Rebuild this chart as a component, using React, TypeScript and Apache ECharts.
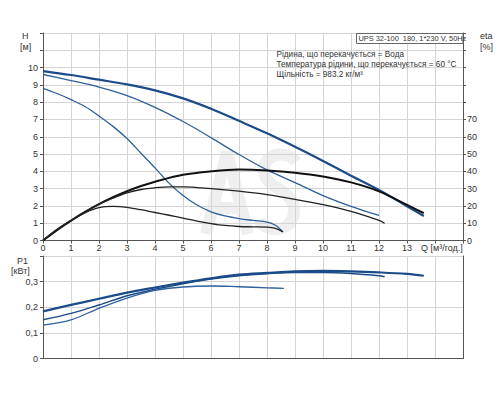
import React, { useEffect, useRef } from "react";
import * as echarts from "echarts";

// Flow Q [m³/h] and head H [m] per speed
const qH3 = [0, 1, 2, 3, 4, 5, 6, 7, 8, 9, 10, 11, 12, 13, 13.6];
const h3 = [9.8, 9.57, 9.3, 9.03, 8.68, 8.22, 7.62, 6.92, 6.2, 5.42, 4.6, 3.75, 2.92, 1.98, 1.42];
const qH2 = [0, 1, 2, 3, 4, 5, 6, 7, 8, 9, 10, 11, 12];
const h2 = [9.6, 9.25, 8.87, 8.38, 7.7, 6.88, 5.95, 4.97, 4.08, 3.35, 2.6, 1.98, 1.45];
const qH1 = [0, 0.5, 1, 1.5, 2, 2.5, 3, 3.5, 4, 4.5, 5, 5.5, 6, 6.5, 7, 7.5, 8, 8.3, 8.57];
const h1 = [8.8, 8.5, 8.15, 7.75, 7.2, 6.6, 5.9, 5.05, 4.2, 3.32, 2.6, 2.05, 1.66, 1.42, 1.27, 1.16, 1.06, 0.88, 0.5];

// Efficiency eta [%]
const qE3 = [0, 0.5, 1, 1.5, 2, 2.5, 3, 3.5, 4, 5, 6, 7, 8, 9, 10, 11, 12, 13, 13.6];
const e3 = [0, 6, 11.5, 16.5, 21, 25, 28.5, 31.5, 34, 38, 40, 41, 40.5, 39.2, 37, 33.6, 28.4, 20.6, 15.8];
const qE2 = [0, 0.5, 1, 1.5, 2, 2.5, 3, 3.5, 4, 4.5, 5, 6, 7, 8, 9, 10, 11, 12, 12.2];
const e2 = [0, 6, 11.5, 16.5, 21, 24.5, 27.5, 29.5, 30.5, 31, 31, 30, 28.5, 26.5, 23.8, 20.7, 16.8, 11.6, 10];
const qE1 = [0, 0.5, 1, 1.5, 2, 2.5, 3, 3.5, 4, 4.5, 5, 5.5, 6, 6.5, 7, 7.5, 8, 8.3, 8.57];
const e1 = [0, 6.5, 11.5, 16, 19, 19.7, 19.2, 17.8, 16.2, 14.6, 12.9, 11.2, 9.8, 8.7, 8.1, 7.9, 7.7, 7, 5];

// Power P1 [kW]
const qP3 = [0, 1, 2, 3, 4, 5, 6, 7, 8, 9, 10, 11, 12, 13, 13.6];
const p3 = [0.184, 0.209, 0.233, 0.257, 0.277, 0.296, 0.313, 0.327, 0.334, 0.34, 0.342, 0.34, 0.336, 0.33, 0.323];
const qP2 = [0, 1, 2, 3, 4, 5, 6, 7, 8, 9, 10, 11, 12, 12.2];
const p2 = [0.151, 0.176, 0.209, 0.245, 0.27, 0.292, 0.31, 0.323, 0.331, 0.336, 0.336, 0.332, 0.323, 0.319];
const qP1 = [0, 1, 2, 3, 4, 5, 6, 7, 8, 8.6];
const p1 = [0.13, 0.151, 0.196, 0.236, 0.266, 0.279, 0.283, 0.28, 0.276, 0.274];

const titleText = "UPS 32-100  180, 1*230 V, 50Hz";
const infoLines = [
  "Рідина, що перекачується = Вода",
  "Температура рідини, що перекачується = 60 °C",
  "Щільність = 983.2 кг/м³",
];

const FONT = 'Arial, "Liberation Sans", sans-serif';
const AXIS = "#555";
const GRID = "#d4d4d4";
const BLUE_T = "#1b4b88";
const BLUE = "#2f609b";

// watermark letter outlines (background logo)
echarts.graphic.registerShape("wmA", echarts.graphic.extendPath("M3 86 L24 4 L45 86 M12 60 L36 60", {}));
echarts.graphic.registerShape(
  "wmS",
  echarts.graphic.extendPath("M40 14 C33 3 8 3 8 22 C8 42 38 40 38 62 C38 86 9 85 3 72", {})
);

const zip = (a: number[], b: number[]) => a.map((x, i) => [x, b[i]]);

export default function App() {
  const ref = useRef<HTMLDivElement>(null);
  useEffect(() => {
    const chart = echarts.init(ref.current!, null, { renderer: "svg" });
    const lbl = { fontFamily: FONT, fontSize: 9, color: "#333" };
    const line = (name: string, data: number[][], color: string, width: number, xi: number, yi: number) => ({
      name,
      type: "line",
      xAxisIndex: xi,
      yAxisIndex: yi,
      data,
      smooth: 0.35,
      showSymbol: false,
      symbol: "none",
      lineStyle: { color, width },
      z: 3,
    });
    chart.setOption({
      animation: false,
      grid: [
        { left: 43, top: 33, width: 420, height: 207.5 },
        { left: 43, top: 256, width: 420, height: 102.5 },
      ],
      xAxis: [
        {
          type: "value", gridIndex: 0, min: 0, max: 15, interval: 1,
          axisLine: { lineStyle: { color: AXIS, width: 1 } },
          axisTick: { show: true, length: 3, lineStyle: { color: AXIS } },
          axisLabel: { ...lbl, margin: 3, formatter: (v: number) => (v <= 13 ? String(v) : "") },
          splitLine: { show: true, lineStyle: { color: GRID, width: 1 } },
        },
        {
          type: "value", gridIndex: 1, min: 0, max: 15, interval: 1,
          axisLine: { lineStyle: { color: AXIS, width: 1 } },
          axisTick: { show: false },
          axisLabel: { show: false },
          splitLine: { show: true, lineStyle: { color: GRID, width: 1 } },
        },
      ],
      yAxis: [
        {
          type: "value", gridIndex: 0, min: 0, max: 12, interval: 1,
          axisLine: { show: true, lineStyle: { color: AXIS, width: 1 } },
          axisTick: { show: true, length: 3, lineStyle: { color: AXIS } },
          axisLabel: { ...lbl, margin: 5, formatter: (v: number) => (v <= 10 ? String(v) : "") },
          splitLine: { show: true, lineStyle: { color: GRID, width: 1 } },
        },
        {
          type: "value", gridIndex: 0, position: "right", min: 0, max: 120, interval: 10,
          axisLine: { show: true, lineStyle: { color: AXIS, width: 1 } },
          axisTick: { show: true, length: 3, lineStyle: { color: AXIS } },
          axisLabel: { ...lbl, margin: 4, formatter: (v: number) => (v <= 70 ? String(v) : "") },
          splitLine: { show: false },
        },
        {
          type: "value", gridIndex: 1, min: 0, max: 0.4, interval: 0.1,
          axisLine: { show: true, lineStyle: { color: AXIS, width: 1 } },
          axisTick: { show: true, length: 3, lineStyle: { color: AXIS } },
          axisLabel: { ...lbl, margin: 5, formatter: (v: number) => (v < 0.35 ? String(Math.round(v * 10) / 10).replace(".", ",") : "") },
          splitLine: { show: true, lineStyle: { color: GRID, width: 1 } },
        },
        {
          type: "value", gridIndex: 1, position: "right", min: 0, max: 0.4, interval: 0.1,
          axisLine: { show: true, lineStyle: { color: AXIS, width: 1 } },
          axisTick: { show: false },
          axisLabel: { show: false },
          splitLine: { show: false },
        },
      ],
      graphic: [
        {
          type: "wmA", x: 203, y: 148, z: -1, silent: true,
          style: { fill: "none", stroke: "#efefef", lineWidth: 12, lineJoin: "miter" },
        },
        {
          type: "wmS", x: 256, y: 148, z: -1, silent: true,
          style: { fill: "none", stroke: "#efefef", lineWidth: 12 },
        },
        { type: "text", x: 22, y: 31, style: { text: "H", fontFamily: FONT, fontSize: 9, fill: "#333" } },
        { type: "text", x: 20, y: 42, style: { text: "[м]", fontFamily: FONT, fontSize: 9, fill: "#333" } },
        { type: "text", x: 480, y: 31, style: { text: "eta", fontFamily: FONT, fontSize: 9, fill: "#333" } },
        { type: "text", x: 480, y: 42, style: { text: "[%]", fontFamily: FONT, fontSize: 9, fill: "#333" } },
        { type: "text", x: 17, y: 256, style: { text: "P1", fontFamily: FONT, fontSize: 9, fill: "#333" } },
        { type: "text", x: 11, y: 266, style: { text: "[кВт]", fontFamily: FONT, fontSize: 9, fill: "#333" } },
        { type: "text", x: 421, y: 243.5, style: { text: "Q [м³/год.]", fontFamily: FONT, fontSize: 9, fill: "#333" } },
        {
          type: "rect", shape: { x: 356.5, y: 33.5, width: 106.5, height: 10 }, z: 5,
          style: { fill: "#fff", stroke: "#666", lineWidth: 1 },
        },
        { type: "text", x: 358.5, y: 35, z: 6, style: { text: titleText, fontFamily: FONT, fontSize: 7.4, fill: "#333" } },
        ...infoLines.map((t, i) => ({
          type: "text", x: 276.5, y: 50 + i * 10, z: 6,
          style: { text: t, fontFamily: FONT, fontSize: 8.2, fill: "#333" },
        })),
      ],
      series: [
        line("H3", zip(qH3, h3), BLUE_T, 2.2, 0, 0),
        line("H2", zip(qH2, h2), BLUE, 1.3, 0, 0),
        line("H1", zip(qH1, h1), BLUE, 1.3, 0, 0),
        line("eta3", zip(qE3, e3), "#111", 2, 0, 1),
        line("eta2", zip(qE2, e2), "#222", 1.3, 0, 1),
        line("eta1", zip(qE1, e1), "#222", 1.3, 0, 1),
        line("P3", zip(qP3, p3), BLUE_T, 2.2, 1, 2),
        line("P2", zip(qP2, p2), BLUE_T, 1.5, 1, 2),
        line("P1", zip(qP1, p1), BLUE, 1.3, 1, 2),
      ],
    });
    return () => chart.dispose();
  }, []);
  return <div ref={ref} style={{ position: "fixed", left: 0, top: 0, width: 500, height: 400, background: "#fff" }} />;
}
